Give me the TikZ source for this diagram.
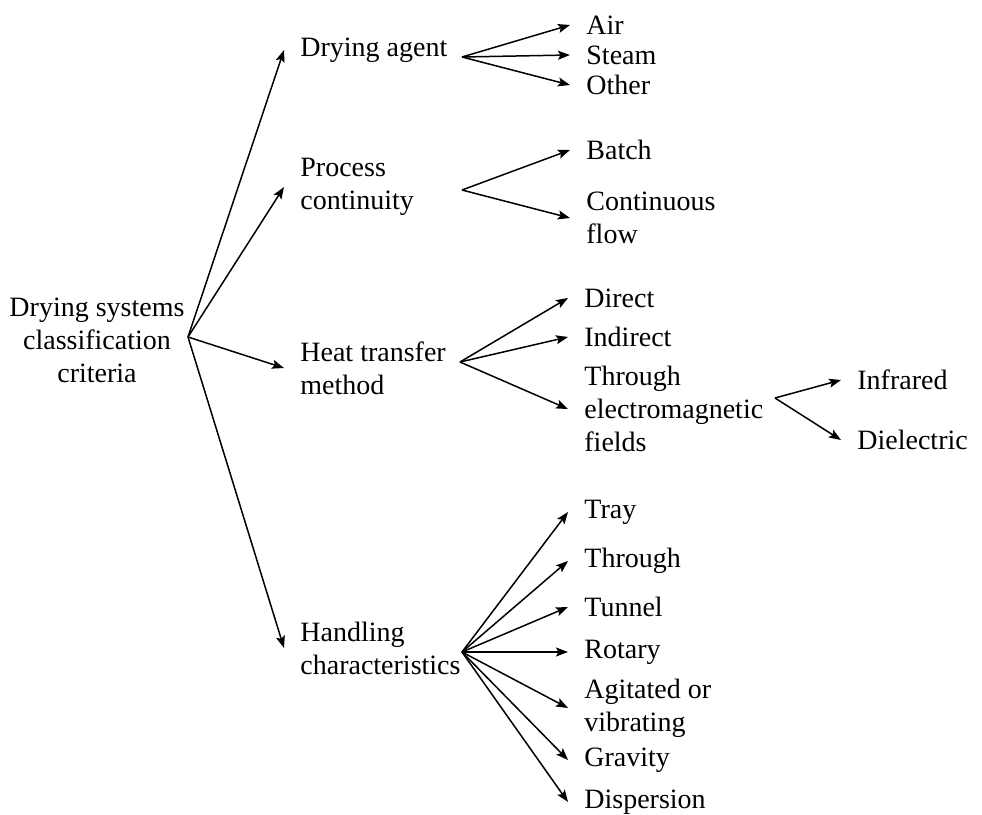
\documentclass[tikz,border=0pt]{standalone}
\usepackage{fontspec}
\setmainfont{Liberation Serif}
\usepackage{tikz}
\usetikzlibrary{shapes,arrows,arrows.meta,positioning}
\tikzstyle{line} = [draw, -{Stealth[length=6pt,width=4.5pt,inset=1.2pt]}, line width=0.75pt]
\tikzstyle{item} = [anchor=west, align=left, inner xsep=8pt, inner ysep=0pt]

\begin{document}
\begin{tikzpicture}[x=0.5pt, y=-0.5pt, font=\fontsize{14}{16.5}\selectfont]
		\useasboundingbox (0,0) rectangle (982,815);
		% root
		\node[align=center, inner sep=0pt] (root) at (97, 340) {Drying systems\\classification\\criteria};
		\coordinate (rootfork) at (188, 337);
		% first level
		\node[item] (agent) at (284, 50) {Drying agent};
		\node[item] (process) at (284, 187) {Process\\continuity};
		\node[item] (heat) at (284, 368) {Heat transfer\\method};
		\node[item] (handling) at (284, 648) {Handling\\characteristics};
		\draw[line] (rootfork) -- (agent.west);
		\draw[line] (rootfork) -- (process.west);
		\draw[line] (rootfork) -- (heat.west);
		\draw[line] (rootfork) -- (handling.west);
		% drying agent
		\coordinate (agentfork) at (462, 57);
		\node[item] (air) at (570, 25) {Air};
		\node[item] (steam) at (570, 55) {Steam};
		\node[item] (other) at (570, 85) {Other};
		\draw[line] (agentfork) -- (air.west);
		\draw[line] (agentfork) -- (steam.west);
		\draw[line] (agentfork) -- (other.west);
		% process continuity
		\coordinate (processfork) at (462, 190);
		\node[item] (batch) at (570, 150) {Batch};
		\node[item] (contflow) at (570, 218) {Continuous\\flow};
		\draw[line] (processfork) -- (batch.west);
		\draw[line] (processfork) -- (contflow.west);
		% heat transfer method
		\coordinate (heatfork) at (460, 362);
		\node[item] (direct) at (568, 298) {Direct};
		\node[item] (indirect) at (568, 337) {Indirect};
		\node[item] (emfields) at (568, 409) {Through\\electromagnetic\\fields};
		\draw[line] (heatfork) -- (direct.west);
		\draw[line] (heatfork) -- (indirect.west);
		\draw[line] (heatfork) -- (emfields.west);
		\coordinate (emfork) at (775, 398);
		\node[item] (infrared) at (841, 380) {Infrared};
		\node[item] (dielectric) at (841, 440) {Dielectric};
		\draw[line] (emfork) -- (infrared.west);
		\draw[line] (emfork) -- (dielectric.west);
		% handling characteristics
		\coordinate (handlingfork) at (462, 652);
		\node[item] (tray) at (568, 512) {Tray};
		\node[item] (throughcirc) at (568, 561) {Through};
		\node[item] (tunnel) at (568, 607) {Tunnel};
		\node[item] (rotary) at (568, 652) {Rotary};
		\node[item] (agitated) at (568, 708) {Agitated or\\vibrating};
		\node[item] (gravity) at (568, 760) {Gravity};
		\node[item] (dispersion) at (568, 802) {Dispersion};
		\foreach \n in {tray,throughcirc,tunnel,rotary,agitated,gravity,dispersion}
			\draw[line] (handlingfork) -- (\n.west);
\end{tikzpicture}
\end{document}
